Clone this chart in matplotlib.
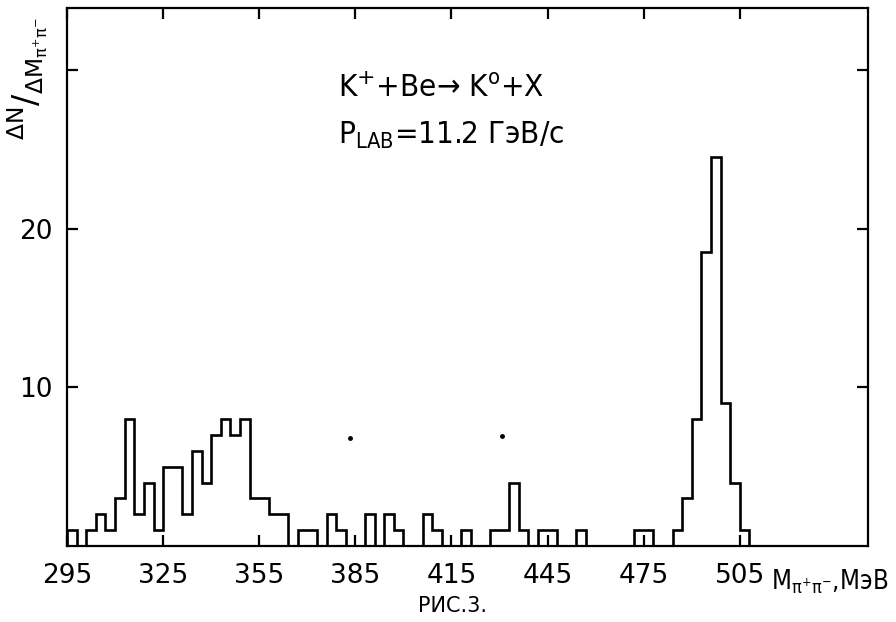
import numpy as np
import matplotlib
matplotlib.use('Agg')
import matplotlib.pyplot as plt

# histogram of M(pi+ pi-), 3 MeV bins starting at 295 MeV
bin_start = 295
bin_width = 3
counts = [1, 0, 1, 2, 1, 3, 8, 2, 4, 1,      # 295 .. 322
          5, 5, 2, 6, 4, 7, 8, 7, 8, 3,      # 325 .. 352
          3, 2, 2, 0, 1, 1, 0, 2, 1, 0,      # 355 .. 382
          0, 2, 0, 2, 1, 0, 0, 2, 1, 0,      # 385 .. 412
          0, 1, 0, 0, 1, 1, 4, 1, 0, 1,      # 415 .. 442
          1, 0, 0, 1, 0, 0, 0, 0, 0, 1,      # 445 .. 472
          1, 0, 0, 1, 3, 8, 18.5, 24.5, 9, 4,  # 475 .. 502
          1]                                 # 505
x_ticks = [295, 325, 355, 385, 415, 445, 475, 505]
x_ticklabels = ['295', '325', '355', '385', '415', '445', '475', '505']
y_ticks = [10, 20, 30]
y_ticklabels = ['10', '20', '']
# two stray specks on the scanned figure
speck_x = [383.2, 430.9]
speck_y = [6.8, 6.9]

edges = bin_start + bin_width * np.arange(len(counts) + 1)

fig = plt.figure(figsize=(8.96, 6.22), dpi=100)
ax = fig.add_axes([67 / 896, 1 - 546 / 622, (868 - 67) / 896, (546 - 8) / 622])

ax.stairs(counts, edges, baseline=0, fill=False, color='black', linewidth=1.9)
ax.plot(speck_x, speck_y, 'o', color='black', markersize=2.5)

ax.set_xlim(295, 545)
ax.set_ylim(0, 33.9)
ax.set_xticks(x_ticks)
ax.set_xticklabels(x_ticklabels)
ax.set_yticks(y_ticks)
ax.set_yticklabels(y_ticklabels)
ax.tick_params(axis='both', direction='in', length=8, width=1.6,
               top=True, right=True, labelsize=19)
ax.tick_params(axis='x', pad=12)
ax.tick_params(axis='y', pad=10)
for s in ax.spines.values():
    s.set_linewidth(1.6)

# reaction and beam momentum
ax.text(0.338, 0.835, 'K$^{+}$+Be→ K$^{\\mathregular{o}}$+X', transform=ax.transAxes,
        fontsize=22.5, fontstretch='condensed', ha='left', va='baseline')
ax.text(0.338, 0.748, r'P$_{\mathregular{LAB}}$=11.2 ГэВ/c', transform=ax.transAxes,
        fontsize=22.5, fontstretch='condensed', ha='left', va='baseline')

# axis titles
fig.text(771 / 896, 1 - 590 / 622, r'M$_{\mathregular{\pi^{+}\pi^{-}}}$,МэВ',
         fontsize=18.5, fontstretch='condensed', ha='left', va='baseline')
fig.text(28 / 896, 1 - 78 / 622,
         r'$^{\mathregular{\Delta N}}/_{\mathregular{\Delta M_{\pi^{+}\pi^{-}}}}$',
         fontsize=24, rotation=90, ha='center', va='center')
fig.text(452 / 896, 1 - 612 / 622, 'РИС.3.', fontsize=15,
         ha='center', va='baseline')

fig.savefig('out.png', dpi=100)
